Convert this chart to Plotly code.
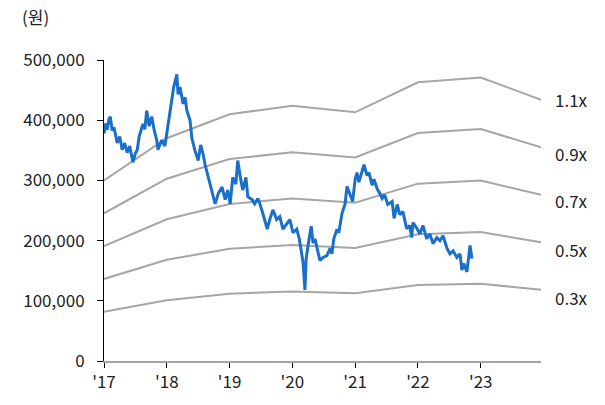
import plotly.graph_objects as go

# Stock price (decimal year, won)
price_t = [2017.00, 2017.03, 2017.05, 2017.08, 2017.10, 2017.13, 2017.16, 2017.18, 2017.21, 2017.25, 2017.29, 2017.33, 2017.37,
           2017.41, 2017.44, 2017.46, 2017.50, 2017.53, 2017.56, 2017.62, 2017.65, 2017.68, 2017.72, 2017.76, 2017.80, 2017.84,
           2017.86, 2017.92, 2017.97, 2018.02, 2018.08, 2018.11, 2018.16, 2018.18, 2018.21, 2018.26,
           2018.29, 2018.32, 2018.37, 2018.40, 2018.45, 2018.50, 2018.54, 2018.58, 2018.61, 2018.66,
           2018.72, 2018.77, 2018.82, 2018.88, 2018.93, 2018.97, 2019.01, 2019.05, 2019.10, 2019.13,
           2019.18, 2019.21, 2019.26, 2019.29, 2019.36, 2019.40, 2019.45, 2019.48, 2019.53, 2019.60,
           2019.64, 2019.69, 2019.75, 2019.80, 2019.85, 2019.91, 2019.96, 2020.01, 2020.07, 2020.11,
           2020.15, 2020.17, 2020.20, 2020.22, 2020.25, 2020.30, 2020.33, 2020.36, 2020.41, 2020.44,
           2020.49, 2020.55, 2020.60, 2020.63, 2020.66, 2020.71, 2020.74, 2020.79, 2020.84, 2020.87,
           2020.92, 2020.96, 2021.00, 2021.03, 2021.06, 2021.11, 2021.14, 2021.19, 2021.22, 2021.27,
           2021.30, 2021.35, 2021.38, 2021.43, 2021.47, 2021.52, 2021.59, 2021.62, 2021.67, 2021.71,
           2021.76, 2021.82, 2021.87, 2021.90, 2021.92, 2021.98, 2022.03, 2022.08, 2022.14, 2022.19,
           2022.24, 2022.30, 2022.35, 2022.40, 2022.46, 2022.51, 2022.56, 2022.62, 2022.67, 2022.70,
           2022.73, 2022.78, 2022.81, 2022.83, 2022.86]
price_v = [378000, 395000, 384000, 402000, 406000, 383000, 388000, 378000, 362000, 373000, 351000, 362000, 346000,
           357000, 340000, 330000, 345000, 351000, 373000, 394000, 385000, 416000, 390000, 406000, 383000, 367000,
           351000, 367000, 357000, 390000, 432000, 455000, 476000, 443000, 455000, 427000,
           438000, 416000, 400000, 370000, 349000, 333000, 359000, 343000, 326000, 305000,
           284000, 261000, 278000, 289000, 268000, 284000, 261000, 305000, 294000, 333000,
           300000, 284000, 305000, 273000, 268000, 261000, 270000, 262000, 245000, 219000,
           235000, 251000, 235000, 240000, 219000, 229000, 235000, 213000, 219000, 203000,
           180000, 164000, 118000, 170000, 192000, 224000, 196000, 203000, 180000, 167000,
           172000, 175000, 187000, 178000, 203000, 219000, 213000, 245000, 261000, 290000,
           276000, 265000, 302000, 313000, 297000, 313000, 326000, 308000, 313000, 292000,
           302000, 286000, 281000, 270000, 276000, 260000, 265000, 237000, 260000, 243000,
           248000, 220000, 225000, 205000, 230000, 221000, 211000, 225000, 203000, 211000,
           195000, 205000, 200000, 208000, 188000, 178000, 183000, 172000, 178000, 151000,
           162000, 148000, 172000, 192000, 170000]

# Book value per share at band nodes
bps_t = [2017.0, 2018.0, 2019.0, 2020.0, 2021.0, 2022.0, 2023.0, 2023.96]
bps_v = [272700, 336400, 372700, 385500, 375500, 420900, 428200, 394500]
multiples = [1.1, 0.9, 0.7, 0.5, 0.3]
band_labels = ["1.1x", "0.9x", "0.7x", "0.5x", "0.3x"]

tick_years = [2017, 2018, 2019, 2020, 2021, 2022, 2023]
tick_text = ["'17", "'18", "'19", "'20", "'21", "'22", "'23"]
y_ticks = [0, 100000, 200000, 300000, 400000, 500000]

FONT = "Noto Sans CJK KR"
GRAY = "#a6a6a6"
BLUE = "#1a6fc8"
label_shift = [0, -6, -6, -7, -8]

fig = go.Figure()
for m in multiples:
    fig.add_trace(go.Scatter(x=bps_t, y=[b * m for b in bps_v], mode="lines",
                             line=dict(color=GRAY, width=2), hoverinfo="skip"))
fig.add_trace(go.Scatter(x=price_t, y=price_v, mode="lines",
                         line=dict(color=BLUE, width=3)))

for m, lab, sh in zip(multiples, band_labels, label_shift):
    fig.add_annotation(x=bps_t[-1], y=bps_v[-1] * m, text=lab, showarrow=False,
                       xanchor="left", yanchor="middle", xshift=12, yshift=sh,
                       font=dict(size=17, color="#222222", family=FONT))

fig.add_annotation(x=-0.192, y=1.146, xref="paper", yref="paper", text="(원)",
                   showarrow=False, xanchor="left", yanchor="middle",
                   font=dict(size=17, color="#222222", family=FONT))

fig.update_layout(
    width=605, height=405,
    margin=dict(l=104, r=64, t=60, b=37),
    plot_bgcolor="white", paper_bgcolor="white",
    showlegend=False,
    font=dict(family=FONT, size=17, color="#222222"),
    xaxis=dict(range=[2017, 2023.96], tickvals=tick_years, ticktext=tick_text,
               showgrid=False, zeroline=False, showline=True, linecolor=GRAY, linewidth=2,
               ticks="outside", ticklen=5, tickcolor="black", tickwidth=1),
    yaxis=dict(range=[0, 500000], tickvals=y_ticks, tickformat=",d",
               showgrid=False, zeroline=False, showline=True, linecolor="black", linewidth=1,
               ticks="outside", ticklen=6, tickcolor="black", tickwidth=1,
               ticklabelstandoff=9),
)

fig.write_html("out.html")
